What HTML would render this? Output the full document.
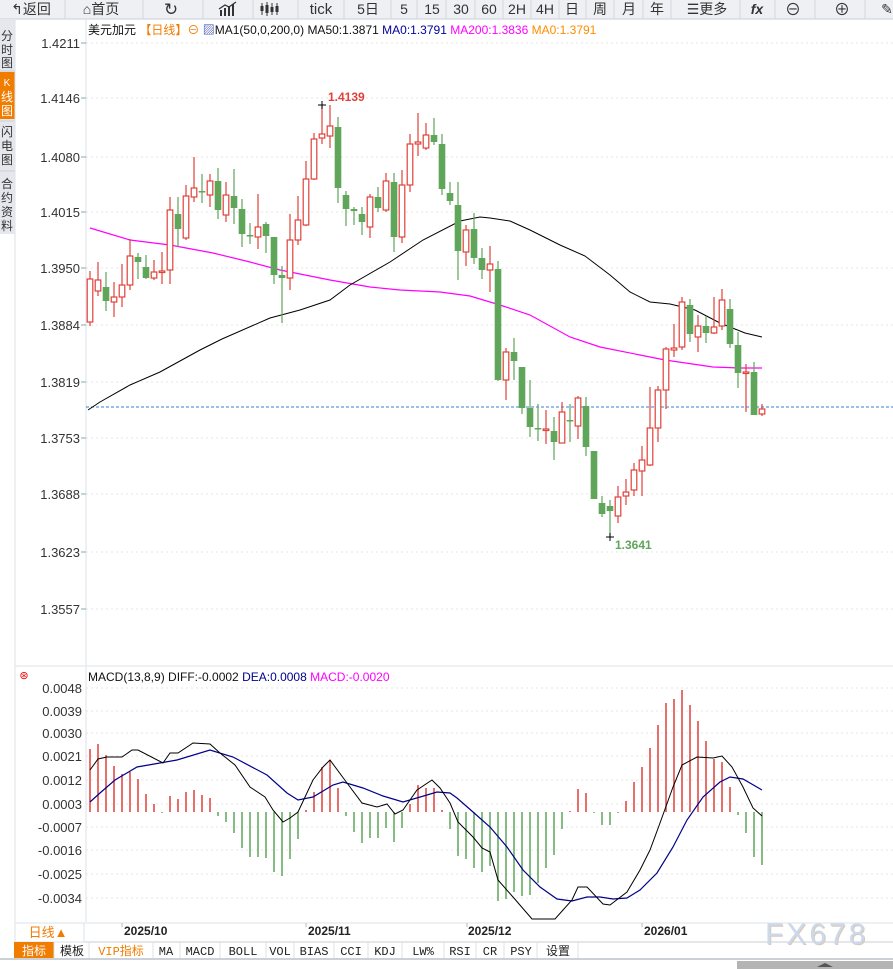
<!DOCTYPE html>
<html><head><meta charset="utf-8"><style>
body{margin:0;width:893px;height:969px;overflow:hidden;background:#fff;font-family:"Liberation Sans","Noto Sans CJK SC",sans-serif;}
svg{position:absolute;left:0;top:0}
</style></head><body>
<svg id="s" width="893" height="969" xmlns="http://www.w3.org/2000/svg" font-family="Liberation Sans, Noto Sans CJK SC, sans-serif">
<rect x="0" y="0" width="893" height="19" fill="#eef0f4"/>
<line x1="0" y1="19" x2="893" y2="19" stroke="#c9ced6"/>
<g font-size="14" fill="#333" text-anchor="middle">
<text x="31" y="14">↰返回</text><text x="101" y="14">⌂首页</text>
<text x="171" y="15" font-size="17">↻</text>
<text x="321" y="14" font-size="15">tick</text><text x="368" y="14">5日</text><text x="404" y="14">5</text><text x="432" y="14">15</text><text x="461" y="14">30</text><text x="489" y="14">60</text><text x="517" y="14">2H</text><text x="545" y="14">4H</text><text x="572" y="14">日</text><text x="600" y="14">周</text><text x="629" y="14">月</text><text x="657" y="14">年</text><text x="707" y="14">☰更多</text><text x="757" y="14" font-style="italic" font-weight="bold">fx</text><text x="793" y="15" font-size="16">⊖</text><text x="842" y="15" font-size="16">⊕</text><text x="887" y="14">✎</text>
</g>
<g fill="#333"><rect x="220" y="10" width="2" height="6"/><rect x="224" y="8" width="2" height="8"/><rect x="228" y="6" width="2" height="10"/><rect x="232" y="4" width="2" height="12"/></g>
<polyline points="219,9 225,5 229,7 236,2" fill="none" stroke="#333" stroke-width="1.2"/>
<g stroke="#333" stroke-width="1"><line x1="262" y1="3" x2="262" y2="15"/><line x1="267" y1="2" x2="267" y2="16"/><line x1="272" y1="3" x2="272" y2="15"/><line x1="277" y1="3" x2="277" y2="15"/></g>
<g fill="#333"><rect x="260.5" y="6" width="3" height="5"/><rect x="265.5" y="5" width="3" height="8"/><rect x="270.5" y="7" width="3" height="5"/><rect x="275.5" y="6" width="3" height="6"/></g>
<g stroke="#d3d7de"><line x1="65" y1="0" x2="65" y2="19"/><line x1="143" y1="0" x2="143" y2="19"/><line x1="203" y1="0" x2="203" y2="19"/><line x1="253" y1="0" x2="253" y2="19"/><line x1="298" y1="0" x2="298" y2="19"/><line x1="344" y1="0" x2="344" y2="19"/><line x1="391" y1="0" x2="391" y2="19"/><line x1="417" y1="0" x2="417" y2="19"/><line x1="446" y1="0" x2="446" y2="19"/><line x1="475" y1="0" x2="475" y2="19"/><line x1="503" y1="0" x2="503" y2="19"/><line x1="531" y1="0" x2="531" y2="19"/><line x1="559" y1="0" x2="559" y2="19"/><line x1="586" y1="0" x2="586" y2="19"/><line x1="614" y1="0" x2="614" y2="19"/><line x1="643" y1="0" x2="643" y2="19"/><line x1="671" y1="0" x2="671" y2="19"/><line x1="740" y1="0" x2="740" y2="19"/><line x1="775" y1="0" x2="775" y2="19"/><line x1="815" y1="0" x2="815" y2="19"/><line x1="865" y1="0" x2="865" y2="19"/></g>
<rect x="0" y="20" width="15" height="920" fill="#fff"/>
<rect x="0" y="20" width="15" height="214" fill="#e6e7ec"/>
<rect x="0" y="72" width="15" height="47" fill="#f07c00"/>
<g stroke="#c8ccd4"><line x1="0" y1="71" x2="15" y2="71"/><line x1="0" y1="121" x2="15" y2="121"/><line x1="0" y1="171" x2="15" y2="171"/></g>
<line x1="15" y1="20" x2="15" y2="942" stroke="#dde3ea"/>
<g font-size="12" fill="#333" text-anchor="middle"><text x="7" y="40">分</text><text x="7" y="54">时</text><text x="7" y="67">图</text>
<text x="7" y="86" fill="#fff" font-size="10">K</text><text x="7" y="101" fill="#fff">线</text><text x="7" y="115" fill="#fff">图</text>
<text x="7" y="136">闪</text><text x="7" y="150">电</text><text x="7" y="164">图</text>
<text x="7" y="188">合</text><text x="7" y="202">约</text><text x="7" y="216">资</text><text x="7" y="230">料</text></g>
<line x1="86" y1="20" x2="86" y2="922" stroke="#dde3ea"/>
<line x1="15" y1="666" x2="893" y2="666" stroke="#dde3ea"/>
<g id="grid"></g>
<g id="g"></g>
<text x="88" y="34" font-size="12" fill="#111">美元加元 <tspan fill="#f07c00">【日线】⊖</tspan> <tspan fill="#3344aa">▨</tspan>MA1(50,0,200,0) MA50:1.3871 <tspan fill="#0000a0">MA0:1.3791</tspan> <tspan fill="#ff00ff">MA200:1.3836</tspan> <tspan fill="#ff8c00">MA0:1.3791</tspan></text>
<text x="24" y="679" font-size="11" fill="#e00" text-anchor="middle">⊛</text>
<text x="88" y="681" font-size="12" fill="#111">MACD(13,8,9) DIFF:-0.0002 <tspan fill="#00008b">DEA:0.0008</tspan> <tspan fill="#ff00ff">MACD:-0.0020</tspan></text>
<text x="328" y="101" font-size="12" font-weight="bold" fill="#e0413a">1.4139</text>
<path d="M318 105h8M322 101v8" stroke="#000"/>
<text x="615" y="549" font-size="12" font-weight="bold" fill="#5fa55a">1.3641</text>
<path d="M606 537h8M610 533v8" stroke="#000"/>
<line x1="15" y1="923" x2="893" y2="923" stroke="#dde3ea"/>
<line x1="15" y1="942" x2="893" y2="942" stroke="#c9ced6"/>
<rect x="15" y="923" width="69" height="19" fill="#fff" stroke="#dde3ea"/>
<text x="48" y="937" font-size="13" fill="#f07c00" text-anchor="middle">日线▲</text>
<g font-size="12" font-weight="bold" fill="#222"><text x="124" y="935">2025/10</text><text x="308" y="935">2025/11</text><text x="468" y="935">2025/12</text><text x="644" y="935">2026/01</text></g>
<g stroke="#bbb"><line x1="122" y1="923" x2="122" y2="927"/><line x1="306" y1="923" x2="306" y2="927"/><line x1="467" y1="923" x2="467" y2="927"/><line x1="642" y1="923" x2="642" y2="927"/></g>
<text x="766" y="945" font-size="30" fill="#d9c9bb" letter-spacing="3">FX678</text>
<text x="765" y="944" font-size="30" fill="#cbd9ea" letter-spacing="3">FX678</text>
<rect x="14" y="942" width="40" height="16" fill="#f07c00"/>
<g font-size="12" fill="#222" text-anchor="middle" font-family="Liberation Mono, Noto Sans CJK SC, monospace">
<text x="34" y="955" fill="#fff">指标</text><text x="72" y="955">模板</text><text x="121" y="955" fill="#f07c00">VIP指标</text><text x="166" y="955">MA</text><text x="200" y="955">MACD</text><text x="243" y="955">BOLL</text><text x="280" y="955">VOL</text><text x="314" y="955">BIAS</text><text x="351" y="955">CCI</text><text x="385" y="955">KDJ</text><text x="423" y="955">LW%</text><text x="460" y="955">RSI</text><text x="490" y="955">CR</text><text x="521" y="955">PSY</text><text x="558" y="955">设置</text></g>
<g stroke="#dde3ea"><line x1="54" y1="942" x2="54" y2="958"/><line x1="89" y1="942" x2="89" y2="958"/><line x1="153" y1="942" x2="153" y2="958"/><line x1="180" y1="942" x2="180" y2="958"/><line x1="220" y1="942" x2="220" y2="958"/><line x1="266" y1="942" x2="266" y2="958"/><line x1="294" y1="942" x2="294" y2="958"/><line x1="334" y1="942" x2="334" y2="958"/><line x1="368" y1="942" x2="368" y2="958"/><line x1="402" y1="942" x2="402" y2="958"/><line x1="444" y1="942" x2="444" y2="958"/><line x1="476" y1="942" x2="476" y2="958"/><line x1="504" y1="942" x2="504" y2="958"/><line x1="537" y1="942" x2="537" y2="958"/><line x1="578" y1="942" x2="578" y2="958"/></g>
<line x1="0" y1="959" x2="893" y2="959" stroke="#ccd1d8" stroke-width="2"/>
<rect x="737" y="961" width="156" height="8" fill="#b4b4b4"/>
<path d="M817 967l8-4 8 4z" fill="#555"/>
</svg>
<script>
var NS="http://www.w3.org/2000/svg",g=document.getElementById('g'),gr=document.getElementById('grid');
function el(t,a,p){var e=document.createElementNS(NS,t);for(var k in a)e.setAttribute(k,a[k]);(p||g).appendChild(e);return e;}
var py=[[1.4211,43],[1.4146,98],[1.4080,157],[1.4015,212],[1.3950,268],[1.3884,325],[1.3819,382],[1.3753,438],[1.3688,494],[1.3623,552],[1.3557,609]];
py.forEach(function(p){el('line',{x1:86,y1:p[1],x2:893,y2:p[1],stroke:'#e4e4e4','stroke-dasharray':'2,3'},gr);el('line',{x1:81,y1:p[1],x2:86,y2:p[1],stroke:'#8aa'},gr);var t=el('text',{x:80,y:p[1]+5,'font-size':13,fill:'#333','text-anchor':'end'},gr);t.textContent=p[0].toFixed(4);});
var my=[['0.0048',688],['0.0039',711],['0.0030',733],['0.0021',756],['0.0012',780],['0.0003',804],['-0.0007',827],['-0.0016',850],['-0.0025',874],['-0.0034',898]];
my.forEach(function(p){el('line',{x1:86,y1:p[1],x2:893,y2:p[1],stroke:'#e4e4e4','stroke-dasharray':'2,3'},gr);var t=el('text',{x:82,y:p[1]+5,'font-size':13,fill:'#333','text-anchor':'end'},gr);t.textContent=p[0];});
el('line',{x1:86,y1:407,x2:893,y2:407,stroke:'#3a7fd5','stroke-dasharray':'3,2'});
var C=[[279,322,271,326,1],[280,291,262,296,1],[287,301,272,311,0],[297,302,282,317,1],[285,297,264,307,1],[256,285,239,290,1],[257,262,253,279,0],[267,278,255,279,0],[272,278,260,280,1],[271,272,252,284,1],
[210,270,197,284,1],[214,229,197,247,0],[196,238,185,240,1],[188,197,157,202,1],[191,192,174,203,0],[181,195,174,207,1],[181,210,168,219,0],[195,215,182,222,1],[196,208,169,224,0],[209,234,199,247,0],
[235,236,223,244,0],[227,237,194,249,1],[224,236,222,253,0],[237,275,237,284,0],[275,278,266,323,0],[240,278,214,290,1],[220,240,196,245,1],[179,225,161,226,1],[139,179,133,180,1],[134,138,105,144,1],
[126,136,105,148,1],[127,188,117,203,0],[195,209,191,226,0],[209,211,207,225,0],[214,222,207,235,0],[197,227,194,238,1],[197,208,187,212,0],[181,210,173,212,1],[182,237,173,252,0],[185,237,170,243,1],
[144,185,134,192,1],[142,144,113,156,1],[135,148,123,150,1],[135,142,118,145,0],[144,189,134,195,0],[193,201,182,205,0],[205,251,182,280,0],[230,252,225,266,1],[229,258,213,264,0],[258,270,248,279,0],
[264,270,246,292,1],[269,380,261,381,0],[352,380,348,400,1],[352,361,338,380,0],[367,408,367,414,0],[408,427,380,437,0],[428,429,404,441,0],[429,430,410,444,1],[431,442,417,460,0],[412,443,402,443,1],
[420,421,404,442,0],[398,426,396,439,1],[406,447,397,456,0],[451,499,451,499,0],[503,514,496,517,0],[506,511,500,537,0],[497,516,486,523,1],[492,496,479,505,1],[470,490,463,496,1],[460,471,446,496,1],
[428,465,387,466,1],[390,428,386,442,1],[349,390,347,409,1],[348,350,324,357,1],[302,347,297,350,1],[305,334,299,342,0],[326,337,315,352,1],[326,333,316,343,0],[327,333,297,334,1],[300,326,289,330,1],
[309,344,299,348,0],[345,373,332,388,0],[372,373,364,412,1],[372,415,362,415,0],[409,414,404,416,1]];
function line(pts,col,w){el('polyline',{points:pts.map(function(p){return p.join(',')}).join(' '),fill:'none',stroke:col,'stroke-width':w||1});}
line([[90,228],[130,240],[170,245],[213,253],[250,262],[280,270],[330,280],[370,287],[400,290],[440,292],[470,296],[500,305],[530,315],[570,337],[600,347],[640,355],[665,360],[713,367],[740,368],[762,368]],'#ff00ff',1.2);
line([[88,410],[100,402],[130,385],[160,372],[200,350],[222,339],[270,318],[300,310],[330,300],[350,285],[390,262],[423,240],[460,221],[480,217],[490,218],[510,221],[530,230],[560,245],[585,256],[610,275],[630,292],[650,302],[670,304],[695,310],[720,323],[745,333],[762,337]],'#000',1);
C.forEach(function(c,i){var x=90+i*8,col=c[4]?'#e0413a':'#5fa55a';
 el('line',{x1:x,y1:c[2],x2:x,y2:c[0],stroke:col,'stroke-width':1.2});el('line',{x1:x,y1:c[1],x2:x,y2:c[3],stroke:col,'stroke-width':1.2});
 var h=Math.max(c[1]-c[0],1.5);
 if(c[4])el('rect',{x:x-2.8,y:c[0],width:5.6,height:h,fill:'#fff',stroke:col,'stroke-width':1.2});
 else el('rect',{x:x-3.3,y:c[0],width:6.6,height:h,fill:col});});
var H=[749,744,755,766,774,772,779,794,804,813,796,799,792,790,795,798,816,822,833,848,857,857,858,872,876,859,839,810,792,767,760,788,816,832,843,838,838,828,842,828,804,785,788,788,810,829,856,859,868,872,866,901,899,892,896,895,883,868,855,829,811,789,793,813,825,825,813,801,782,767,748,725,703,699,690,705,721,741,759,762,787,815,833,857,865];
H.forEach(function(y,i){var x=90+i*8,col=y<812?'#e0413a':'#5fa55a';el('line',{x1:x,y1:812,x2:x,y2:y,stroke:col,'stroke-width':1.5});});
line([[90,802],[100,793],[115,780],[137,767],[160,763],[177,760],[210,750],[233,757],[267,775],[287,793],[298,800],[313,797],[333,785],[343,782],[363,788],[383,796],[403,802],[427,795],[437,792],[450,793],[457,798],[473,812],[490,827],[507,847],[523,870],[540,887],[557,899],[572,901],[587,897],[600,897],[613,899],[627,898],[640,890],[657,873],[673,847],[687,820],[703,797],[720,782],[730,777],[743,779],[762,790]],'#00008b',1.2);
line([[90,770],[98,759],[107,757],[122,757],[132,750],[138,750],[163,763],[170,753],[178,753],[193,743],[210,744],[220,753],[235,765],[250,787],[265,797],[273,810],[283,822],[290,818],[298,812],[313,780],[323,767],[330,760],[347,783],[362,803],[377,807],[387,804],[395,814],[403,810],[417,790],[432,780],[440,788],[450,803],[458,822],[473,837],[482,848],[490,852],[498,880],[513,897],[532,919],[555,919],[572,900],[578,887],[587,887],[603,904],[610,905],[627,892],[640,870],[650,850],[660,823],[673,787],[682,765],[697,757],[713,758],[722,756],[732,767],[743,787],[753,808],[762,816]],'#000',1);
</script>
</body></html>
